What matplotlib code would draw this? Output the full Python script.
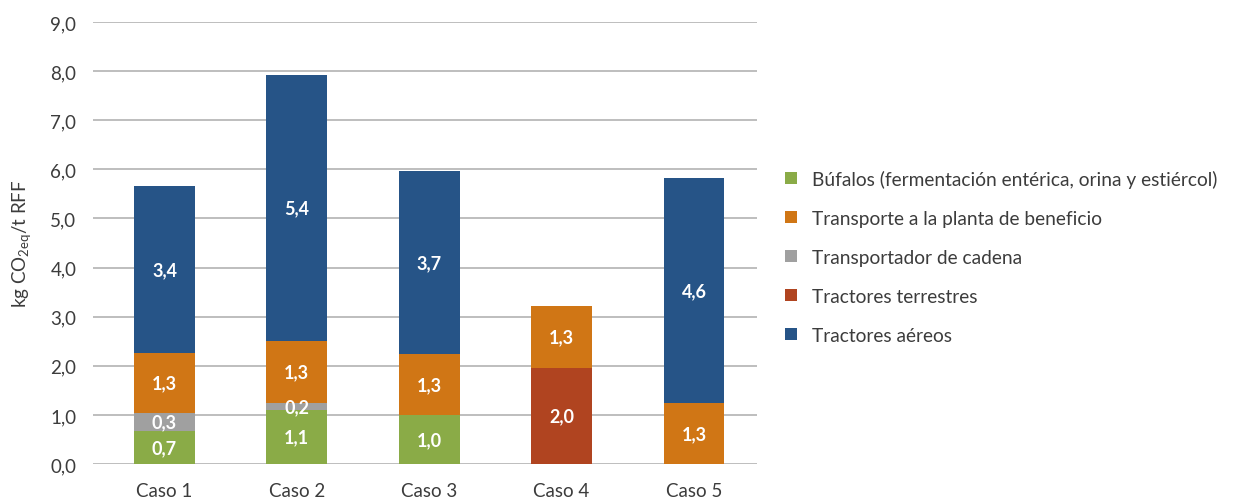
import numpy as np
import matplotlib
matplotlib.use("Agg")
import matplotlib.pyplot as plt
from matplotlib.patches import Patch

plt.rcParams['font.family'] = ['Lato', 'DejaVu Sans']

cases = ['Caso 1', 'Caso 2', 'Caso 3', 'Caso 4', 'Caso 5']
series = ['Búfalos (fermentación entérica, orina y estiércol)',
          'Transportador de cadena',
          'Transporte a la planta de beneficio',
          'Tractores terrestres',
          'Tractores aéreos']
bufalos = [0.68, 1.09, 1.00, 0.0, 0.0]
cadena = [0.36, 0.16, 0.0, 0.0, 0.0]
terrestres = [0.0, 0.0, 0.0, 1.96, 0.0]
transporte = [1.22, 1.26, 1.24, 1.26, 1.24]
aereos = [3.40, 5.42, 3.73, 0.0, 4.58]

lab_bufalos = ['0,7', '1,1', '1,0', '', '']
lab_cadena = ['0,3', '0,2', '', '', '']
lab_terrestres = ['', '', '', '2,0', '']
lab_transporte = ['1,3', '1,3', '1,3', '1,3', '1,3']
lab_aereos = ['3,4', '5,4', '3,7', '', '4,6']

colors = {
    'bufalos': '#8aab47',
    'transporte': '#d07615',
    'cadena': '#a0a0a0',
    'terrestres': '#b04420',
    'aereos': '#265487',
}

# bottom to top
stack = [
    ('bufalos', bufalos, lab_bufalos),
    ('cadena', cadena, lab_cadena),
    ('terrestres', terrestres, lab_terrestres),
    ('transporte', transporte, lab_transporte),
    ('aereos', aereos, lab_aereos),
]

fig = plt.figure(figsize=(12.35, 5.02), dpi=100)
ax = fig.add_axes([93 / 1235, 1 - 465 / 502, (757 - 93) / 1235, (465 - 23) / 502])

x = np.arange(len(cases))
bottom = np.zeros(len(cases))
for key, vals, labs in stack:
    vals = np.array(vals)
    ax.bar(x, vals, bottom=bottom, width=0.46, color=colors[key], zorder=3)
    for i, (v, t) in enumerate(zip(vals, labs)):
        if t:
            ax.text(x[i], bottom[i] + v / 2, t, ha='center', va='center',
                    color='white', fontsize=13, fontweight='bold', zorder=5)
    bottom += vals

ax.set_xlim(-0.54, 4.476)
ax.set_ylim(0, 9)
ax.set_yticks(np.arange(0, 9.1, 1))
ax.set_yticklabels([f'{v:.1f}'.replace('.', ',') for v in np.arange(0, 9.1, 1)])
ax.set_xticks(x)
ax.set_xticklabels(cases)
ax.tick_params(axis='both', length=0, labelsize=13.5, labelcolor='#3c3c3c')
ax.tick_params(axis='y', pad=12)
ax.tick_params(axis='x', pad=13)
for s in ax.spines.values():
    s.set_visible(False)
ax.grid(True, axis='y', color='#b3b3b3', linewidth=1.2, zorder=0)
ax.set_axisbelow(True)
ax.set_ylabel('kg CO$_{\\mathregular{2eq}}$/t RFF', fontsize=13.5, color='#3c3c3c', labelpad=12)

legend_order = [('bufalos', series[0]), ('transporte', series[2]), ('cadena', series[1]),
                ('terrestres', series[3]), ('aereos', series[4])]
handles = [Patch(facecolor=colors[k], edgecolor='none') for k, _ in legend_order]
leg = fig.legend(handles, [n for _, n in legend_order], loc='center left',
                 bbox_to_anchor=(768 / 1235, 1 - 258 / 502), frameon=False,
                 fontsize=13.8, handlelength=0.6, handleheight=0.6,
                 handletextpad=0.8, labelspacing=1.15)
for t in leg.get_texts():
    t.set_color('#3c3c3c')

fig.savefig('out.png', dpi=100)
